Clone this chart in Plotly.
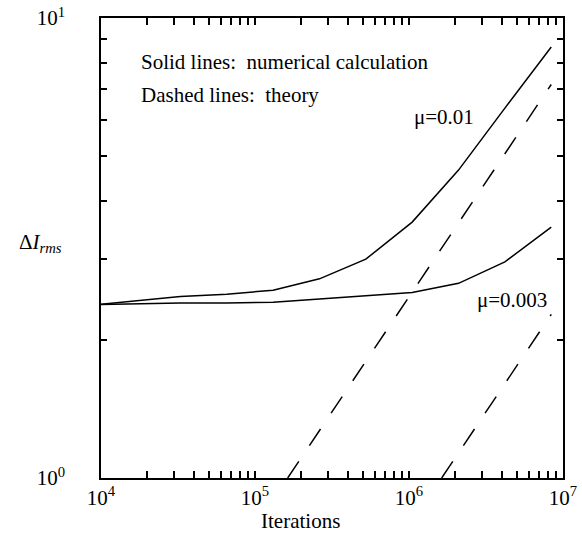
import plotly.graph_objects as go

# Iterations at which numerical values were computed (powers of two)
iterations = [8192, 16384, 32768, 65536, 131072, 262144, 524288,
              1048576, 2097152, 4194304, 8388608]
# Numerical calculation (solid lines)
num_mu_001 = [2.37, 2.42, 2.48, 2.51, 2.56, 2.71, 2.99, 3.60, 4.67, 6.37, 8.65]
num_mu_0003 = [2.38, 2.39, 2.40, 2.40, 2.41, 2.45, 2.49, 2.53, 2.65, 2.95, 3.51]

# Theory (dashed lines)
theory_iters_001 = [163000, 262144, 524288, 1048576, 2097152, 4194304, 8388608]
theory_mu_001 = [1.0, 1.268, 1.793, 2.536, 3.587, 5.073, 7.17]
theory_iters_0003 = [1630000, 2097152, 4194304, 8388608]
theory_mu_0003 = [1.0, 1.134, 1.604, 2.268]

# Axis ticks (major labelled, minor unlabelled)
x_tickvals = [1e4, 2e4, 3e4, 4e4, 5e4, 6e4, 7e4, 8e4, 9e4,
              1e5, 2e5, 3e5, 4e5, 5e5, 6e5, 7e5, 8e5, 9e5,
              1e6, 2e6, 3e6, 4e6, 5e6, 6e6, 7e6, 8e6, 9e6, 1e7]
x_ticktext = ["10<sup>4</sup>", "", "", "", "", "", "", "", "",
              "10<sup>5</sup>", "", "", "", "", "", "", "", "",
              "10<sup>6</sup>", "", "", "", "", "", "", "", "",
              "10<sup>7</sup>"]
y_tickvals = [1, 2, 3, 4, 5, 6, 7, 8, 9, 10]
y_ticktext = ["10<sup>0</sup>", "", "", "", "", "", "", "", "", "10<sup>1</sup>"]

FONT = "Liberation Serif"
W, H = 582, 541
L, R, T, B = 101, 19, 18, 63
PW, PH = W - L - R, H - T - B


def px(x):
    # page pixel -> paper coordinate
    return (x - L) / PW


def py(y):
    return (T + PH - y) / PH


fig = go.Figure()
line_solid = dict(color="black", width=1.5)
line_dash = dict(color="black", width=1.5, dash="20px,19px")

fig.add_trace(go.Scatter(x=iterations, y=num_mu_001, mode="lines", line=line_solid))
fig.add_trace(go.Scatter(x=iterations, y=num_mu_0003, mode="lines", line=line_solid))
fig.add_trace(go.Scatter(x=theory_iters_001, y=theory_mu_001, mode="lines", line=line_dash))
fig.add_trace(go.Scatter(x=theory_iters_0003, y=theory_mu_0003, mode="lines", line=line_dash))

axis_common = dict(
    showline=True, linecolor="black", linewidth=1.5, mirror="allticks",
    ticks="inside", tickwidth=1.6, tickcolor="black",
    showgrid=False, zeroline=False, automargin=False,
    ticklabeloverflow="allow",
    tickfont=dict(family=FONT, size=21, color="black"),
)

fig.update_xaxes(type="log", range=[4, 7], tickmode="array",
                 tickvals=x_tickvals, ticktext=x_ticktext, ticklen=7,
                 ticklabelstandoff=0, **axis_common)
fig.update_yaxes(type="log", range=[0, 1], tickmode="array",
                 tickvals=y_tickvals, ticktext=y_ticktext, ticklen=6,
                 ticklabelstandoff=30, **axis_common)

annots = [
    dict(text="Solid lines:  numerical calculation", x=px(139), y=py(62), xanchor="left"),
    dict(text="Dashed lines:  theory", x=px(139), y=py(95), xanchor="left"),
    dict(text="\u03bc=0.01", x=px(444), y=py(117), xanchor="center"),
    dict(text="\u03bc=0.003", x=px(512), y=py(300), xanchor="center"),
    dict(text="\u0394<i>I</i><sub><i>rms</i></sub>", x=px(40), y=py(243), xanchor="center"),
    dict(text="Iterations", x=px(300), y=py(521), xanchor="center"),
]
for a in annots:
    fig.add_annotation(xref="paper", yref="paper", showarrow=False, yanchor="middle",
                       font=dict(family=FONT, size=21, color="black"), **a)

fig.update_layout(
    width=W, height=H, showlegend=False,
    margin=dict(l=L, r=R, t=T, b=B, autoexpand=False),
    paper_bgcolor="white", plot_bgcolor="white",
)

fig.write_html(
    "out.html",
    config={"displayModeBar": False},
    post_script="document.body.style.margin='0';document.body.style.overflow='hidden';",
)
